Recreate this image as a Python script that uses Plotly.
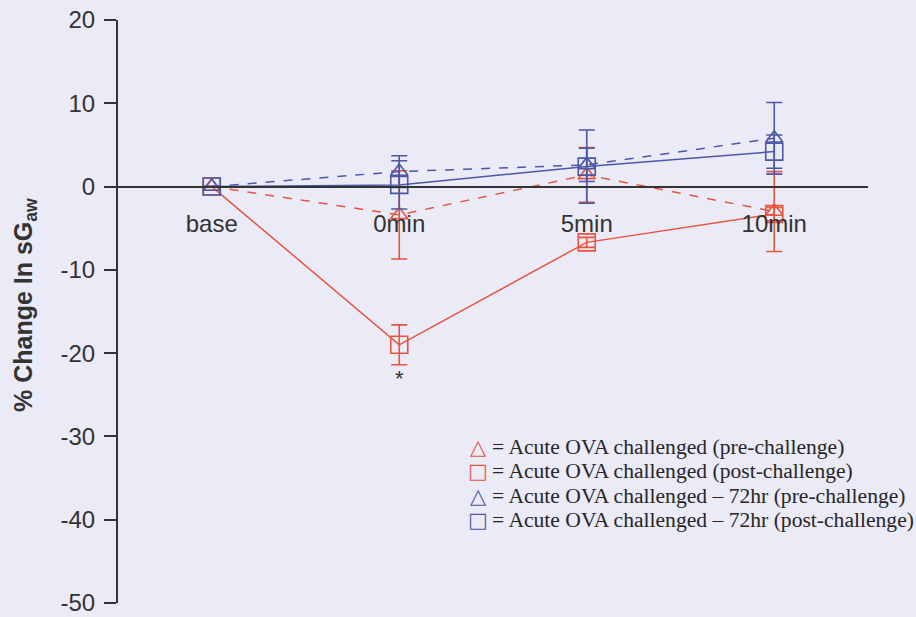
import plotly.graph_objects as go

# time points
categories = ["base", "0min", "5min", "10min"]

# % change in sGaw, mean and error
red_pre = [0, -3.4, 1.4, -3.0]
red_pre_err = [0, 5.3, 3.3, 4.8]
red_post = [0, -19.0, -6.7, -3.3]
red_post_err = [0, 2.4, 0.6, 0.8]
blue_pre = [0, 1.8, 2.6, 5.8]
blue_pre_err = [0, 1.9, 2.0, 4.3]
blue_post = [0, 0.2, 2.4, 4.2]
blue_post_err = [0, 2.9, 4.4, 2.0]

y_ticks = [20, 10, 0, -10, -20, -30, -40, -50]
y_ticktext = ["20", "10", "0", "-10", "-20", "-30", "-40", "-50"]

legend_names = [
    "= Acute OVA challenged (pre-challenge)",
    "= Acute OVA challenged (post-challenge)",
    "= Acute OVA challenged \u2013 72hr (pre-challenge)",
    "= Acute OVA challenged \u2013 72hr (post-challenge)",
]

RED = "#E8553F"
BLUE = "#4B58A8"
AXIS = "#333333"
BG = "#EBEAF7"

# plot area in pixels
PX0, PX1, PY0, PY1 = 118, 868, 20, 603
W, H = 916, 617


def px(x):
    return (x - PX0) / (PX1 - PX0)


def py(y):
    return (PY1 - y) / (PY1 - PY0)


fig = go.Figure()

series = [
    (red_pre, red_pre_err, RED, "triangle-up-open", "dash", 15, "\u25b3"),
    (red_post, red_post_err, RED, "square-open", "solid", 17, "\u25a1"),
    (blue_pre, blue_pre_err, BLUE, "triangle-up-open", "dash", 15, "\u25b3"),
    (blue_post, blue_post_err, BLUE, "square-open", "solid", 17, "\u25a1"),
]

for vals, errs, color, symbol, dash, size, _ in series:
    fig.add_trace(
        go.Scatter(
            x=categories,
            y=vals,
            mode="lines+markers",
            line={"color": color, "width": 1.5, "dash": dash},
            marker={"symbol": symbol, "size": size, "color": color,
                    "line": {"width": 1.6, "color": color}},
            error_y={"type": "data", "array": errs, "color": color,
                     "thickness": 1.6, "width": 8},
            showlegend=False,
        )
    )

# legend drawn as text lines
legend_y = [447, 471, 496, 520]
for (_, _, color, _, _, _, glyph), name, ly in zip(series, legend_names, legend_y):
    fig.add_annotation(
        x=px(478), y=py(ly), xref="paper", yref="paper", text=glyph,
        showarrow=False, xanchor="center", yanchor="middle",
        font={"family": "DejaVu Sans", "size": 21, "color": color},
    )
    fig.add_annotation(
        x=px(490), y=py(ly), xref="paper", yref="paper", text=name,
        showarrow=False, xanchor="left", yanchor="middle",
        font={"family": "Liberation Serif", "size": 21.6, "color": "#262626"},
    )

fig.add_annotation(
    x="0min", y=-23, xref="x", yref="y", text="*", showarrow=False,
    font={"family": "Liberation Sans", "size": 22, "color": AXIS},
)

# y-axis title
fig.add_annotation(
    x=px(25), y=py(305), xref="paper", yref="paper",
    text="<b>% Change In sG<sub>aw</sub></b>", textangle=-90,
    showarrow=False, xanchor="center", yanchor="middle",
    font={"family": "Liberation Sans", "size": 25, "color": AXIS},
)

fig.update_layout(
    width=W,
    height=H,
    plot_bgcolor=BG,
    paper_bgcolor=BG,
    margin={"l": PX0, "r": W - PX1, "t": PY0, "b": H - PY1},
    font={"family": "Liberation Sans", "color": AXIS},
    xaxis={
        "type": "category",
        "categoryorder": "array",
        "categoryarray": categories,
        "range": [-0.5, 3.5],
        "anchor": "free",
        "position": py(187),
        "automargin": False,
        "showline": True,
        "linecolor": AXIS,
        "linewidth": 2,
        "ticks": "",
        "showgrid": False,
        "zeroline": False,
        "ticklabelstandoff": 15,
        "tickfont": {"size": 24, "color": AXIS},
    },
    yaxis={
        "range": [-50, 20],
        "tickvals": y_ticks,
        "ticktext": y_ticktext,
        "automargin": False,
        "showline": True,
        "linecolor": AXIS,
        "linewidth": 2,
        "ticks": "outside",
        "ticklen": 12,
        "tickwidth": 2,
        "tickcolor": AXIS,
        "showgrid": False,
        "zeroline": False,
        "ticklabelstandoff": 4,
        "ticklabeloverflow": "allow",
        "tickfont": {"size": 24, "color": AXIS},
    },
)

fig.write_html(
    "out.html",
    config={"displayModeBar": False},
    post_script="document.body.style.margin='0';"
    "document.body.style.background='%s';" % BG,
)
